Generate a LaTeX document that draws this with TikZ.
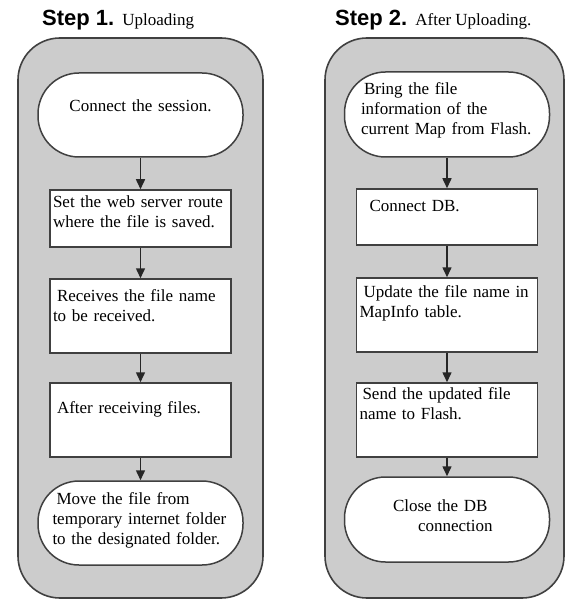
\documentclass[tikz,border=0pt]{standalone}
\usepackage{fontspec}
\setmainfont{Liberation Serif}
\setsansfont{Liberation Sans}
\usetikzlibrary{arrows.meta}
\newcommand\stepfont{\fontsize{22}{24}\sffamily\bfseries}

\begin{document}
\begin{tikzpicture}[x=1pt,y=1pt,every node/.style={font=\fontsize{17}{20}\selectfont},
  panel/.style={draw=black!75,line width=1.6pt,fill=black!20,rounded corners=42pt},
  terminal/.style={draw=black!75,line width=1.5pt,fill=white,rounded corners=41pt,
    minimum width=205pt,inner xsep=0pt,inner ysep=0pt,align=left},
  stepbox/.style={draw=black!75,line width=1.5pt,fill=white,
    text width=175pt,inner xsep=3pt,inner ysep=0pt,align=left},
  flow/.style={-{Triangle[length=10pt,width=9pt]},black!85,line width=1.5pt},
  title/.style={anchor=base west,inner sep=0pt}]
  \def\LX{140.5}
  \def\RX{447}
  \useasboundingbox (0,0) rectangle (566,-601);
  \draw[panel] (18,-38) rectangle (263,-598);
  \draw[panel] (325,-38) rectangle (564,-598);

  \node[title] (Title1) at (42,-26) {{\stepfont Step 1.}\hspace{8pt}Uploading};
  \node[title] (Title2) at (335,-26) {{\stepfont Step 2.}\hspace{8pt}After Uploading.};

  % step 1: uploading
  \node[terminal,text width=160pt,align=center,text height=39pt,text depth=45pt]
    (Session) at (\LX,-115) {Connect the session.};
  \node[stepbox,text height=18pt,text depth=39pt]
    (Route) at (\LX,-218.5) {Set the web server route\\where the file is saved.};
  \node[stepbox,text height=22pt,text depth=52pt]
    (FileName) at (\LX,-316) {\hspace{4pt}Receives the file name\\to be received.};
  \node[stepbox,text height=30pt,text depth=44pt]
    (Received) at (\LX,-420) {\hspace{4pt}After receiving files.};
  \node[terminal,text width=176pt,text height=23pt,text depth=61pt]
    (Move) at (\LX,-523) {\hspace{4pt}Move the file from\\temporary internet folder\\to the designated folder.};

  % step 2: after uploading
  \node[terminal,text width=172pt,text height=23pt,text depth=62pt]
    (FileInfo) at (\RX,-114.5) {\hspace{3pt}Bring the file\\information of the\\current Map from Flash.};
  \node[stepbox,text height=23pt,text depth=33pt]
    (ConnectDB) at (\RX,-217) {\hspace{10pt}Connect DB.};
  \node[stepbox,text height=19pt,text depth=55pt]
    (Update) at (\RX,-315) {\hspace{4pt}Update the file name in\\MapInfo table.};
  \node[stepbox,text height=16pt,text depth=58pt]
    (Send) at (\RX,-420) {\hspace{3pt}Send the updated file\\name to Flash.};
  \node[terminal,text width=108pt,text height=34pt,text depth=51pt]
    (Close) at (\RX,-519.5) {Close the DB\\\hspace*{25pt}connection};

  \foreach \a/\b in {Session/Route,Route/FileName,FileName/Received,Received/Move,
      FileInfo/ConnectDB,ConnectDB/Update,Update/Send,Send/Close}
    \draw[flow] (\a) -- (\b);
\end{tikzpicture}
\end{document}
